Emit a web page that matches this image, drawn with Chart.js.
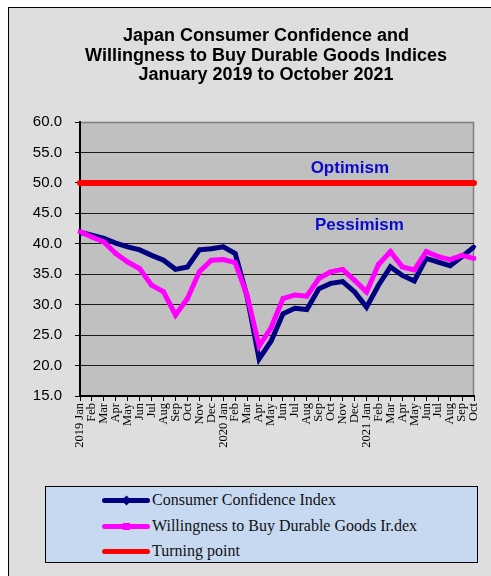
<!DOCTYPE html>
<html>
<head>
<meta charset="utf-8">
<script src="https://cdn.jsdelivr.net/npm/chart.js@4.4.0/dist/chart.umd.min.js"></script>
<style>
  html, body { margin:0; padding:0; background:#ffffff; width:491px; height:576px; overflow:hidden; }
  #frame { position:absolute; left:8px; top:7px; width:500px; height:600px; background:#dedede;
           border-left:1px solid #000; border-top:1px solid #000; }
  #wrap { position:absolute; left:0; top:0; width:491px; height:482px; }
  #legend { position:absolute; left:45px; top:486px; width:431px; height:75px; background:#c6d9f1;
            border:1px solid #000; font-family:"Liberation Serif","Times New Roman",serif; font-size:16px; color:#111; }
  .row { position:absolute; left:0; height:20px; width:100%; }
  .sample { position:absolute; left:56px; width:48px; height:5px; border-radius:3px; top:8px; }
  .mark { position:absolute; left:77px; top:7px; width:7px; height:7px; }
  .txt { position:absolute; left:106px; white-space:nowrap; line-height:20px; }
</style>
</head>
<body>
<div id="frame"></div>
<div id="wrap"><canvas id="c" width="491" height="482"></canvas></div>
<div id="legend"></div>
<script>
const months = ['2019 Jan','Feb','Mar','Apr','May','Jun','Jul','Aug','Sep','Oct','Nov','Dec',
                '2020 Jan','Feb','Mar','Apr','May','Jun','Jul','Aug','Sep','Oct','Nov','Dec',
                '2021 Jan','Feb','Mar','Apr','May','Jun','Jul','Aug','Sep','Oct'];
const consumerConfidence = [41.9,41.4,40.9,40.1,39.5,39.0,38.1,37.3,35.8,36.2,39.0,39.2,
                            39.5,38.4,31.3,21.1,24.0,28.5,29.4,29.2,32.6,33.5,33.8,32.1,
                            29.6,33.2,36.2,34.8,33.9,37.6,37.0,36.4,37.9,39.5];
const willingnessDurables = [42.0,41.1,40.3,38.4,37.0,35.9,33.2,32.1,28.3,31.0,35.4,37.3,
                             37.4,36.9,31.5,23.2,26.2,31.0,31.6,31.4,34.3,35.4,35.8,34.0,
                             32.1,36.6,38.7,36.2,35.7,38.7,37.9,37.4,38.1,37.6];
const turningPoint = [50,50,50,50,50,50,50,50,50,50,50,50,
                      50,50,50,50,50,50,50,50,50,50,50,50,
                      50,50,50,50,50,50,50,50,50,50];
const yTicks = [15,20,25,30,35,40,45,50,55,60];
const titleLines = ['Japan Consumer Confidence and','Willingness to Buy Durable Goods Indices','January 2019 to October 2021'];
const zoneLabels = ['Optimism','Pessimism'];

const bgPlugin = {
  id:'bg',
  beforeDraw(chart){
    const a = chart.chartArea, ctx = chart.ctx;
    ctx.save();
    ctx.fillStyle = '#c0c0c0';
    ctx.fillRect(a.left, a.top, a.right-a.left, a.bottom-a.top);
    ctx.strokeStyle = '#808080'; ctx.lineWidth = 1.5;
    ctx.beginPath();
    ctx.moveTo(a.left, a.top+0.5); ctx.lineTo(a.right-0.5, a.top+0.5); ctx.lineTo(a.right-0.5, a.bottom);
    ctx.stroke();
    // title, centred over the chart frame as in the original
    ctx.font = 'bold 18px "Liberation Sans", Arial, sans-serif';
    ctx.fillStyle = '#000';
    ctx.textAlign = 'center'; ctx.textBaseline = 'middle';
    titleLines.forEach((t, i) => ctx.fillText(t, 266, 36.5 + i * 19.1));
    ctx.restore();
  },
  afterDatasetsDraw(chart){
    const ctx = chart.ctx, x = chart.scales.x, y = chart.scales.y;
    ctx.save();
    ctx.font = 'bold 17px "Liberation Sans", Arial, sans-serif';
    ctx.fillStyle = '#0a0acc';
    ctx.textAlign = 'center'; ctx.textBaseline = 'middle';
    ctx.fillText(zoneLabels[0], x.getPixelForValue(22.6), y.getPixelForValue(52.45));
    ctx.fillText(zoneLabels[1], x.getPixelForValue(23.4), y.getPixelForValue(43.1));
    ctx.restore();
  }
};

const chart = new Chart(document.getElementById('c'), {
  type:'line',
  data:{
    labels: months,
    datasets:[
      {label:'Consumer Confidence Index', data: consumerConfidence, borderColor:'#000080', backgroundColor:'#000080',
       borderWidth:5, pointStyle:'rectRot', pointRadius:2.5, pointBorderWidth:0, tension:0, order:1},
      {label:'Willingness to Buy Durable Goods Ir.dex', data: willingnessDurables, borderColor:'#ff00ff', backgroundColor:'#ff00ff',
       borderWidth:5, pointStyle:'rect', pointRadius:3, pointBorderWidth:0, tension:0, order:0},
      {label:'Turning point', data: turningPoint, borderColor:'#ff0000', backgroundColor:'#ff0000',
       borderWidth:6, pointRadius:0, tension:0, borderCapStyle:'round', order:2}
    ]
  },
  options:{
    responsive:false,
    animation:false,
    events:[],
    layout:{ padding:{ left:0, right:17, top:122, bottom:0 } },
    plugins:{
      legend:{ display:false },
      tooltip:{ enabled:false },
      title:{ display:false }
    },
    scales:{
      x:{
        offset:false,
        afterFit(s){ s.height = 86; },
        grid:{ drawOnChartArea:false, drawTicks:true, tickLength:5, tickColor:'#000', tickWidth:1 },
        border:{ color:'#000', width:2 },
        ticks:{ autoSkip:false, maxRotation:90, minRotation:90, padding:2, color:'#000',
          font:{ family:'"Liberation Serif", "Times New Roman", serif', size:12.5 } }
      },
      y:{
        min:15, max:60,
        afterFit(s){ s.width = 80; },
        afterBuildTicks(s){ s.ticks = yTicks.map(v => ({value:v})); },
        grid:{ color:(c)=> c.tick && c.tick.value===60 ? 'rgba(0,0,0,0)' : '#1a1a1a', lineWidth:1,
               tickLength:5, tickColor:'#000', drawTicks:true },
        border:{ color:'#000', width:2 },
        ticks:{ padding:13, color:'#000', callback:(v)=> Number(v).toFixed(1),
          font:{ family:'"Liberation Sans", Arial, sans-serif', size:15 } }
      }
    }
  },
  plugins:[bgPlugin]
});

// HTML legend built from the chart's datasets, in dataset order
const legend = document.getElementById('legend');
const rowTops = [3, 29, 54];
chart.data.datasets.forEach((d, i) => {
  const row = document.createElement('div');
  row.className = 'row'; row.style.top = rowTops[i] + 'px';
  const s = document.createElement('div'); s.className = 'sample';
  s.style.background = d.borderColor;
  row.appendChild(s);
  if (d.pointRadius > 0) {
    const m = document.createElement('div'); m.className = 'mark';
    m.style.background = d.borderColor;
    if (d.pointStyle === 'rectRot') m.style.transform = 'rotate(45deg)';
    row.appendChild(m);
  }
  const t = document.createElement('div'); t.className = 'txt'; t.textContent = d.label;
  row.appendChild(t); legend.appendChild(row);
});
</script>
</body>
</html>
